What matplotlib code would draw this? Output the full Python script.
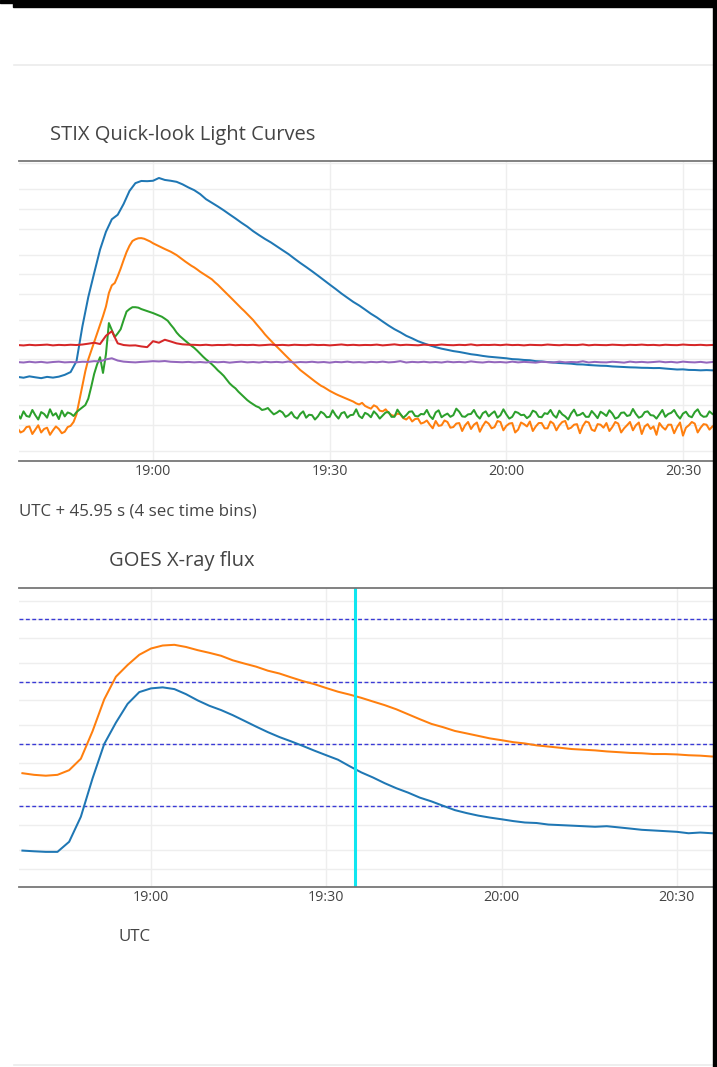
import numpy as np
import pandas as pd
import matplotlib
matplotlib.use('Agg')
import matplotlib.pyplot as plt
import matplotlib.dates as mdates
from matplotlib.ticker import LogLocator, NullLocator
from matplotlib.patches import Rectangle
from matplotlib.lines import Line2D

plt.rcParams['font.family'] = ['Open Sans', 'DejaVu Sans']

W, H = 717, 1067
TEXT = '#444444'
DAY = '2022-01-01 '

# STIX quick-look light curves, counts per 4 s bin
# 4-10, 25-50 and 50-84 keV every minute, 10-15 and 15-25 keV every 30 s
stix_time = pd.date_range(DAY + '18:37', DAY + '20:35', freq='1min')
stix_time_fine = pd.date_range(DAY + '18:37', DAY + '20:35', freq='30s')

stix_4_10 = [
    270, 262, 275, 266, 258, 270, 263, 272, 290, 320,
    470, 1600, 4500, 10500, 24000, 45000, 70000, 82000, 120000, 190000,
    250000, 270000, 268000, 272000, 300000, 280000, 272000, 262000, 240000, 215000,
    195000, 170000, 142000, 125000, 110000, 96000, 83000, 72000, 62000, 54000,
    46000, 40000, 35000, 31000, 27000, 23500, 20500, 17500, 15000, 13000,
    11200, 9600, 8200, 7000, 6000, 5100, 4400, 3800, 3350, 2900,
    2500, 2200, 1900, 1650, 1450, 1300, 1150, 1050, 950, 880,
    820, 770, 730, 700, 670, 650, 625, 600, 585, 565,
    550, 540, 530, 520, 505, 500, 490, 485, 470, 465,
    455, 448, 440, 435, 430, 420, 418, 410, 405, 400,
    398, 390, 386, 382, 378, 376, 372, 371, 368, 369,
    362, 356, 350, 352, 345, 344, 340, 343, 340]
stix_10_15 = [
    44, 38, 40, 46, 47, 36, 42, 49, 38, 43, 45, 35, 41, 47, 43, 37, 39, 46, 48, 55,
    72, 120, 198, 330, 500, 680, 930, 1270, 1730, 2300,
    3220, 5200, 6800, 7400, 9400, 12300, 16600, 22000, 27500, 32500,
    34500, 35800, 36000, 35200, 33600, 32000, 30000, 28500, 27000, 25700,
    24500, 23400, 22300, 21000, 19800, 18300, 16900, 15700, 14600, 13600,
    12800, 11900, 11000, 10300, 9600, 9000, 8400, 7600, 6950, 6250,
    5650, 5100, 4600, 4150, 3730, 3350, 3030, 2750, 2470, 2230,
    2000, 1760, 1560, 1380, 1210, 1080, 970, 870, 787, 710,
    638, 575, 519, 468, 423, 380, 344, 318, 293, 270,
    250, 230, 213, 198, 188, 176, 165, 156, 148, 141,
    135, 129, 124, 118, 113, 106, 102, 108, 97, 92,
    88, 99, 94, 82, 80, 86, 76, 70, 68, 74, 72, 63, 60, 66, 56, 61, 62, 52, 54, 58,
    50, 44, 57, 48, 49, 58, 55, 45, 46, 52, 53, 40, 49, 55, 43, 50, 54, 39, 48, 56,
    52, 44, 46, 57, 55, 41, 48, 52, 53, 38, 42, 54, 51, 47, 56, 40, 47, 53, 53, 44,
    44, 56, 52, 41, 49, 55, 57, 43, 45, 50, 51, 37, 48, 56, 54, 42, 40, 51, 50, 45,
    53, 40, 46, 55, 52, 38, 44, 49, 55, 41, 49, 54, 36, 47, 51, 43, 47, 35, 53, 46,
    42, 50, 50, 37, 46, 54, 34, 45, 49, 55, 52, 38, 45, 51, 50, 42, 47]
stix_15_25 = [
    72, 62, 80, 68, 66, 84, 70, 60, 78, 73, 64, 86, 69, 75, 61, 82, 67, 77, 74, 68,
    78, 85, 92, 100, 125, 190, 300, 420, 540, 310,
    600, 1800, 1400, 1100, 1250, 1450, 2000, 2700, 2950, 3150,
    3150, 3100, 2950, 2850, 2750, 2650, 2560, 2450, 2350, 2250,
    2100, 1950, 1700, 1500, 1290, 1150, 1050, 960, 880, 810,
    750, 680, 610, 550, 500, 460, 420, 380, 340, 310,
    280, 245, 215, 195, 180, 160, 145, 132, 119, 110,
    103, 96, 92, 84, 86, 90, 80, 72, 76, 82, 77, 66, 70, 78, 66, 62, 73, 80, 64, 71,
    70, 60, 67, 79, 74, 65, 66, 83, 70, 62, 75, 78, 64, 70, 71, 86, 68, 63, 76, 72,
    65, 80, 72, 62, 69, 77, 78, 66, 66, 85, 73, 64, 70, 79, 80, 68, 67, 73, 72, 84,
    68, 61, 77, 83, 65, 70, 74, 66, 70, 88, 79, 67, 66, 72, 73, 84, 69, 62, 75, 80,
    67, 74, 80, 64, 70, 86, 72, 62, 66, 79, 76, 70, 71, 63, 68, 82, 78, 66, 65, 75,
    73, 84, 70, 64, 82, 72, 67, 60, 74, 85, 69, 71, 76, 66, 66, 81, 72, 63, 79, 74,
    68, 83, 74, 62, 65, 76, 77, 68, 70, 87, 73, 64, 67, 78, 80, 70, 69, 62, 72, 84,
    66, 73, 76, 84, 70, 62, 74, 79, 68, 65, 78, 86, 71, 66, 67, 80, 73]
stix_25_50 = [
    830, 818, 836, 824, 832, 842, 820, 834, 826, 838,
    830, 845, 870, 900, 860, 1150, 1350, 880, 830, 815,
    820, 790, 770, 950, 900, 1000, 940, 880, 850, 840,
    835, 826, 838, 822, 832, 828, 840, 824, 834, 828,
    836, 820, 830, 842, 826, 834, 822, 838, 830, 826,
    840, 828, 834, 820, 832, 846, 826, 836, 824, 832,
    828, 842, 820, 834, 850, 826, 838, 830, 822, 840,
    832, 826, 844, 830, 824, 836, 828, 848, 822, 834,
    830, 838, 826, 842, 828, 834, 820, 836, 830, 826,
    844, 832, 824, 838, 830, 828, 846, 822, 836, 830,
    826, 840, 832, 824, 836, 830, 842, 828, 834, 822,
    838, 830, 826, 844, 832, 828, 836, 824, 832]
stix_50_84 = [
    455, 448, 460, 450, 458, 446, 456, 462, 450, 455,
    452, 460, 458, 470, 465, 500, 520, 480, 462, 455,
    450, 458, 462, 470, 465, 472, 460, 456, 452, 458,
    450, 456, 448, 460, 452, 458, 446, 455, 462, 450,
    456, 448, 460, 452, 458, 450, 464, 448, 456, 452,
    460, 450, 456, 446, 458, 452, 462, 450, 455, 448,
    458, 452, 462, 450, 456, 470, 448, 458, 452, 460,
    450, 456, 448, 462, 452, 458, 450, 466, 454, 448,
    460, 452, 456, 448, 462, 450, 458, 452, 446, 460,
    454, 448, 462, 450, 456, 452, 468, 448, 458, 452,
    450, 460, 454, 446, 462, 452, 458, 450, 456, 464,
    452, 458, 448, 462, 454, 450, 458, 446, 456]
stix_curves = [
    (stix_time, stix_4_10, '#1f77b4'),
    (stix_time_fine, stix_10_15, '#ff7f0e'),
    (stix_time_fine, stix_15_25, '#2ca02c'),
    (stix_time, stix_25_50, '#d62728'),
    (stix_time, stix_50_84, '#9467bd'),
]

# GOES XRS flux (W/m^2), every 2 min 18:38 - 20:36
goes_time = pd.date_range(DAY + '18:38', DAY + '20:36', freq='2min')
goes_long = [
    3.4e-7, 3.2e-7, 3.1e-7, 3.2e-7, 3.8e-7, 5.8e-7, 1.6e-6, 5.2e-6, 1.2e-5, 1.85e-5,
    2.7e-5, 3.4e-5, 3.8e-5, 3.9e-5, 3.6e-5, 3.2e-5, 2.9e-5, 2.6e-5, 2.2e-5, 1.95e-5,
    1.74e-5, 1.5e-5, 1.35e-5, 1.17e-5, 1.02e-5, 9.1e-6, 7.9e-6, 6.9e-6, 6.2e-6, 5.5e-6,
    4.8e-6, 4.2e-6, 3.6e-6, 3.0e-6, 2.5e-6, 2.1e-6, 1.86e-6, 1.62e-6, 1.48e-6, 1.35e-6,
    1.23e-6, 1.15e-6, 1.07e-6, 1.02e-6, 9.5e-7, 9.1e-7, 8.7e-7, 8.3e-7, 8.1e-7, 7.9e-7,
    7.6e-7, 7.4e-7, 7.2e-7, 7.1e-7, 6.9e-7, 6.9e-7, 6.8e-7, 6.6e-7, 6.5e-7, 6.3e-7]
goes_short = [
    1.95e-8, 1.9e-8, 1.86e-8, 1.86e-8, 2.7e-8, 6.8e-8, 2.8e-7, 1.0e-6, 2.2e-6, 4.4e-6,
    6.8e-6, 7.8e-6, 8.1e-6, 7.6e-6, 6.3e-6, 5.0e-6, 4.1e-6, 3.5e-6, 2.9e-6, 2.35e-6,
    1.9e-6, 1.55e-6, 1.29e-6, 1.1e-6, 9.3e-7, 7.8e-7, 6.6e-7, 5.6e-7, 4.4e-7, 3.5e-7,
    2.9e-7, 2.35e-7, 1.95e-7, 1.66e-7, 1.38e-7, 1.2e-7, 1.02e-7, 8.7e-8, 7.8e-8, 7.1e-8,
    6.6e-8, 6.2e-8, 5.8e-8, 5.5e-8, 5.4e-8, 5.1e-8, 5.0e-8, 4.9e-8, 4.8e-8, 4.7e-8,
    4.8e-8, 4.6e-8, 4.4e-8, 4.2e-8, 4.1e-8, 4.0e-8, 3.9e-8, 3.7e-8, 3.8e-8, 3.7e-8]
flare_classes = [1e-4, 1e-5, 1e-6, 1e-7]
marker_time = pd.Timestamp(DAY + '19:35')


def box(x0, y0, x1, y1):
    # pixel box (top-left origin) -> figure fraction rect
    return [x0 / W, 1 - y1 / H, (x1 - x0) / W, (y1 - y0) / H]


def style_axis(ax, t0, t1, ymin, ymax):
    ax.set_yscale('log')
    ax.set_ylim(ymin, ymax)
    ax.set_xlim(pd.Timestamp(DAY + t0), pd.Timestamp(DAY + t1))
    ax.yaxis.set_major_locator(LogLocator(base=10, subs=(1, 2, 5), numticks=60))
    ax.yaxis.set_minor_locator(NullLocator())
    ax.tick_params(axis='y', left=False, labelleft=False)
    ax.xaxis.set_major_locator(mdates.MinuteLocator(byminute=[0, 30]))
    ax.xaxis.set_major_formatter(mdates.DateFormatter('%H:%M'))
    ax.tick_params(axis='x', length=0, labelsize=10.3, labelcolor=TEXT, pad=2.5)
    ax.grid(True, color='#eeeeee', lw=1.0)
    ax.set_axisbelow(True)
    for s in ['left', 'right']:
        ax.spines[s].set_visible(False)
    for s in ['top', 'bottom']:
        ax.spines[s].set_color('#777777')
        ax.spines[s].set_linewidth(1.3)


fig = plt.figure(figsize=(W / 100, H / 100), dpi=100)

# STIX panel
ax1 = fig.add_axes(box(19, 161, 713, 461))
style_axis(ax1, '18:37:14', '20:35:06', 13.9, 5.46e5)
for t, vals, c in stix_curves:
    ax1.plot(t, vals, color=c, lw=1.45)

# GOES panel
ax2 = fig.add_axes(box(19, 588, 713, 887))
style_axis(ax2, '18:37:25', '20:36:11', 5.08e-9, 3.18e-4)
for lvl in flare_classes:
    ax2.axhline(lvl, color='#3a3ad6', lw=1.0, ls=(0, (2.8, 1.8)))
ax2.plot(goes_time, goes_short, color='#1f77b4', lw=1.45)
ax2.plot(goes_time, goes_long, color='#ff7f0e', lw=1.45)
ax2.axvline(marker_time, color='#10e6f0', lw=2.2)

# titles and axis captions
fig.text(50 / W, 1 - 135 / H, 'STIX Quick-look Light Curves', fontsize=14.5,
         color=TEXT, va='center')
fig.text(19 / W, 1 - 511 / H, 'UTC + 45.95 s (4 sec time bins)', fontsize=12.2,
         color=TEXT, va='center')
fig.text(109 / W, 1 - 561 / H, 'GOES X-ray flux', fontsize=14.5,
         color=TEXT, va='center')
fig.text(118 / W, 1 - 937 / H, 'UTC', fontsize=12.2, color=TEXT, va='center')

# page separators and frame
for yy in [65, 1065]:
    fig.add_artist(Line2D([14 / W, 713 / W], [1 - yy / H] * 2, color='#ebebeb', lw=1.2))
fig.add_artist(Rectangle((0, 1 - 3 / H), 1, 3 / H, color='black',
                         transform=fig.transFigure, zorder=10))
fig.add_artist(Rectangle((13 / W, 1 - 6.5 / H), 1, 6.5 / H, color='black',
                         transform=fig.transFigure, zorder=10))
fig.add_artist(Rectangle((713 / W, 0), 4 / W, 1, color='black',
                         transform=fig.transFigure, zorder=10))

fig.savefig('out.png', dpi=100, facecolor='white')
